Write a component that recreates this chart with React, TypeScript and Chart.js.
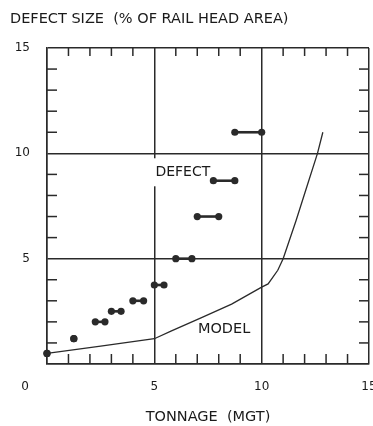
import React, { useEffect, useRef } from "react";
import { Chart, registerables } from "chart.js";

Chart.register(...registerables);

// ---- data ----
const axisTickValues = [0, 5, 10, 15];
const defectStart = [0, 1.25, 2.25, 3.0, 4.0, 5.0, 6.0, 7.0, 7.75, 8.75];
const defectEnd = [0, 1.25, 2.7, 3.45, 4.5, 5.45, 6.75, 8.0, 8.75, 10.0];
const defectSize = [0.5, 1.2, 2.0, 2.5, 3.0, 3.75, 5.0, 7.0, 8.7, 11.0];
const modelTonnage = [0, 2.5, 5, 5.8, 7.2, 8.6, 10, 10.3, 10.75, 11.0, 11.6, 12.1, 12.6, 12.85];
const modelSize = [0.5, 0.85, 1.2, 1.57, 2.2, 2.84, 3.65, 3.8, 4.45, 5.0, 6.8, 8.4, 10.0, 11.0];

const yTitle = "DEFECT SIZE  (% OF RAIL HEAD AREA)";
const xTitle = "TONNAGE  (MGT)";
const originLabel = "0";
const defectText = "DEFECT";
const defectTextAt = { x: 5.05, y: 9.1 };
const modelText = "MODEL";
const modelTextAt = { x: 8.25, y: 1.65 };

const INK = "#2a2a2a";
const TEXT = "#1a1a1a";
const FONT = '"DejaVu Sans", sans-serif';

export default function App() {
  const ref = useRef<HTMLCanvasElement | null>(null);

  useEffect(() => {
    const canvas = ref.current;
    if (!canvas) return;

    const defectSets = defectStart.map((x1, i) => ({
      type: "scatter" as const,
      data: [
        { x: x1, y: defectSize[i] },
        { x: defectEnd[i], y: defectSize[i] },
      ],
      showLine: true,
      borderColor: INK,
      backgroundColor: INK,
      borderWidth: 2.6,
      pointRadius: 3.6,
      pointBorderWidth: 0,
      pointHoverRadius: 3.6,
      clip: false as any,
      order: 1,
    }));

    const modelSet = {
      type: "scatter" as const,
      data: modelTonnage.map((x, i) => ({ x, y: modelSize[i] })),
      showLine: true,
      borderColor: INK,
      backgroundColor: INK,
      borderWidth: 1.3,
      pointRadius: 0,
      tension: 0,
      clip: false as any,
      order: 2,
    };

    const decor = {
      id: "decor",
      beforeDatasetsDraw(chart: any) {
        const { ctx, chartArea, scales } = chart;
        const { left, right, top, bottom } = chartArea;
        const xs = scales.x;
        const ys = scales.y;
        ctx.save();
        ctx.strokeStyle = INK;
        ctx.lineWidth = 1.5;
        const seg = (a: number, b: number, c: number, d: number) => {
          ctx.beginPath();
          ctx.moveTo(a, b);
          ctx.lineTo(c, d);
          ctx.stroke();
        };
        for (let v = 1; v < 15; v++) {
          if (v % 5 === 0) continue;
          const px = xs.getPixelForValue(v);
          seg(px, top, px, top + 8);
          seg(px, bottom, px, bottom - 10);
          const py = ys.getPixelForValue(v);
          seg(left, py, left + 10, py);
          seg(right, py, right - 10, py);
        }
        // DEFECT label, with a white back that interrupts the grid line
        ctx.font = `14px ${FONT}`;
        const dx = xs.getPixelForValue(defectTextAt.x);
        const dy = ys.getPixelForValue(defectTextAt.y);
        const w = ctx.measureText(defectText).width;
        ctx.fillStyle = "#ffffff";
        ctx.fillRect(dx - 5, dy - 14, w + 5, 28);
        ctx.fillStyle = TEXT;
        ctx.textAlign = "left";
        ctx.textBaseline = "middle";
        ctx.fillText(defectText, dx, dy);
        // MODEL label
        ctx.font = `14.5px ${FONT}`;
        ctx.textAlign = "center";
        ctx.fillText(modelText, xs.getPixelForValue(modelTextAt.x), ys.getPixelForValue(modelTextAt.y));
        // origin label and axis title
        ctx.font = `12px ${FONT}`;
        ctx.fillText(originLabel, left - 22, bottom + 23);
        ctx.font = `14.5px ${FONT}`;
        ctx.textAlign = "left";
        ctx.fillText(yTitle, 10, 19);
        ctx.restore();
      },
    };

    const tickFont = { family: FONT, size: 12 };

    const chart = new Chart(canvas, {
      type: "scatter",
      data: { datasets: [...defectSets, modelSet] as any },
      options: {
        responsive: false,
        animation: false,
        events: [],
        layout: { padding: { top: 48, right: 4, bottom: 0, left: 0 } },
        plugins: {
          legend: { display: false },
          tooltip: { enabled: false },
          title: { display: false },
        },
        scales: {
          x: {
            type: "linear",
            min: 0,
            max: 15,
            afterBuildTicks: (s: any) => {
              s.ticks = axisTickValues.map((v) => ({ value: v }));
            },
            afterFit: (s: any) => {
              s.height = 62;
              s.paddingLeft = 0;
              s.paddingRight = 0;
            },
            ticks: {
              autoSkip: false,
              maxRotation: 0,
              padding: 16,
              color: TEXT,
              font: tickFont,
              callback: (v: any) => (v === 0 ? "" : String(v)),
            },
            grid: { color: INK, lineWidth: 1.5, drawTicks: false },
            border: { display: true, color: INK, width: 1.5 },
            title: {
              display: true,
              text: xTitle,
              color: TEXT,
              font: { family: FONT, size: 14.5 },
              padding: { top: 0, bottom: 0 },
            },
          },
          y: {
            type: "linear",
            min: 0,
            max: 15,
            afterBuildTicks: (s: any) => {
              s.ticks = axisTickValues.map((v) => ({ value: v }));
            },
            afterFit: (s: any) => {
              s.width = 47;
              s.paddingTop = 0;
              s.paddingBottom = 0;
            },
            ticks: {
              autoSkip: false,
              padding: 17,
              color: TEXT,
              font: tickFont,
              callback: (v: any) => (v === 0 ? "" : String(v)),
            },
            grid: { color: INK, lineWidth: 1.5, drawTicks: false },
            border: { display: true, color: INK, width: 1.5 },
          },
        },
      },
      plugins: [decor],
    });

    return () => chart.destroy();
  }, []);

  return (
    <div style={{ position: "absolute", left: 0, top: 0, width: 373, height: 426, background: "#fff" }}>
      <canvas ref={ref} width={373} height={426} style={{ display: "block" }} />
    </div>
  );
}
